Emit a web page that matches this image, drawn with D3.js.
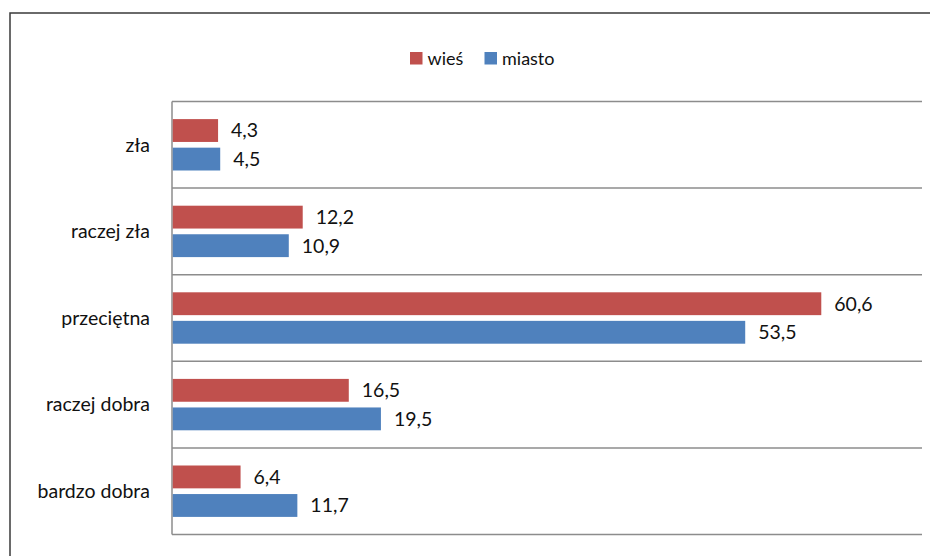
<!doctype html>
<html lang='pl'>
  <head>
    <meta charset='utf-8' />
    <style>
      * { padding: 0; margin: 0; }
      body { background: #fff; font-family: Lato, 'Open Sans', sans-serif; }
      svg { display: block; }
    </style>
    <title>wieś / miasto</title>
  </head>
  <body>
    <div id='container'></div>
    <script src='https://d3js.org/d3.v7.min.js'></script>
    <script type='text/javascript'>

      var categories = ['zła', 'raczej zła', 'przeciętna', 'raczej dobra', 'bardzo dobra'];
      var series = ['wieś', 'miasto'];
      var wies = [4.3, 12.2, 60.6, 16.5, 6.4];
      var miasto = [4.5, 10.9, 53.5, 19.5, 11.7];
      var colors = ['#c0504d', '#4f81bd'];

      const svg_width = 930, svg_height = 556;
      const plot_left = 172, plot_right = 922, plot_top = 101.5, plot_bottom = 534.5;
      const font_size = 19.5;

      var svg = d3.select('#container').append('svg')
          .attr('width', svg_width)
          .attr('height', svg_height);

      // outer frame (runs off the right and bottom edge)
      svg.append('rect')
        .attr('x', 10).attr('y', 13)
        .attr('width', 940).attr('height', 560)
        .attr('fill', 'none')
        .attr('stroke', '#3a3a3a')
        .attr('stroke-width', 1.5);

      var x = d3.scaleLinear().domain([0, 70]).range([plot_left, plot_right]);
      var y = d3.scaleBand().domain(categories).range([plot_top, plot_bottom]);
      var inner = d3.scaleBand().domain(series).range([17.6, y.bandwidth() - 17.6]).paddingInner(0.2);

      // horizontal gridlines at category boundaries
      var bounds = categories.map(function(c) { return y(c); }).concat([plot_bottom]);
      svg.selectAll('line.grid')
        .data(bounds)
        .enter()
        .append('line')
        .attr('class', 'grid')
        .attr('x1', plot_left).attr('x2', plot_right)
        .attr('y1', function(d) { return d; })
        .attr('y2', function(d) { return d; })
        .attr('stroke', '#8c8c8c')
        .attr('stroke-width', 1.5);

      // left axis
      svg.append('line')
        .attr('x1', plot_left).attr('x2', plot_left)
        .attr('y1', plot_top).attr('y2', plot_bottom)
        .attr('stroke', '#8c8c8c')
        .attr('stroke-width', 1.5);

      var rows = [];
      categories.forEach(function(c, i) {
        rows.push({ cat: c, s: 0, v: wies[i] });
        rows.push({ cat: c, s: 1, v: miasto[i] });
      });

      svg.selectAll('rect.bar')
        .data(rows)
        .enter()
        .append('rect')
        .attr('class', 'bar')
        .attr('x', x(0) + 0.75)
        .attr('y', function(d) { return y(d.cat) + inner(series[d.s]); })
        .attr('width', function(d) { return x(d.v) - x(0) - 0.75; })
        .attr('height', inner.bandwidth())
        .attr('fill', function(d) { return colors[d.s]; });

      svg.selectAll('text.val')
        .data(rows)
        .enter()
        .append('text')
        .attr('class', 'val')
        .attr('x', function(d) { return x(d.v) + 13; })
        .attr('y', function(d) { return y(d.cat) + inner(series[d.s]) + inner.bandwidth() / 2; })
        .attr('dy', '0.35em')
        .attr('font-size', font_size)
        .attr('fill', '#111')
        .text(function(d) { return String(d.v).replace('.', ','); });

      svg.selectAll('text.cat')
        .data(categories)
        .enter()
        .append('text')
        .attr('class', 'cat')
        .attr('x', 150)
        .attr('y', function(d) { return y(d) + y.bandwidth() / 2; })
        .attr('dy', '0.35em')
        .attr('text-anchor', 'end')
        .attr('font-size', font_size)
        .attr('fill', '#111')
        .text(function(d) { return d; });

      // legend
      var legendX = [410, 484.5];
      var lg = svg.selectAll('g.legend')
        .data(series)
        .enter()
        .append('g')
        .attr('class', 'legend')
        .attr('transform', function(d, i) { return 'translate(' + legendX[i] + ',52)'; });
      lg.append('rect')
        .attr('width', 12.5).attr('height', 12.5)
        .attr('fill', function(d, i) { return colors[i]; });
      lg.append('text')
        .attr('x', 17.5)
        .attr('y', 6.5)
        .attr('dy', '0.35em')
        .attr('font-size', 18)
        .attr('fill', '#111')
        .text(function(d) { return d; });
    </script>
  </body>
</html>
